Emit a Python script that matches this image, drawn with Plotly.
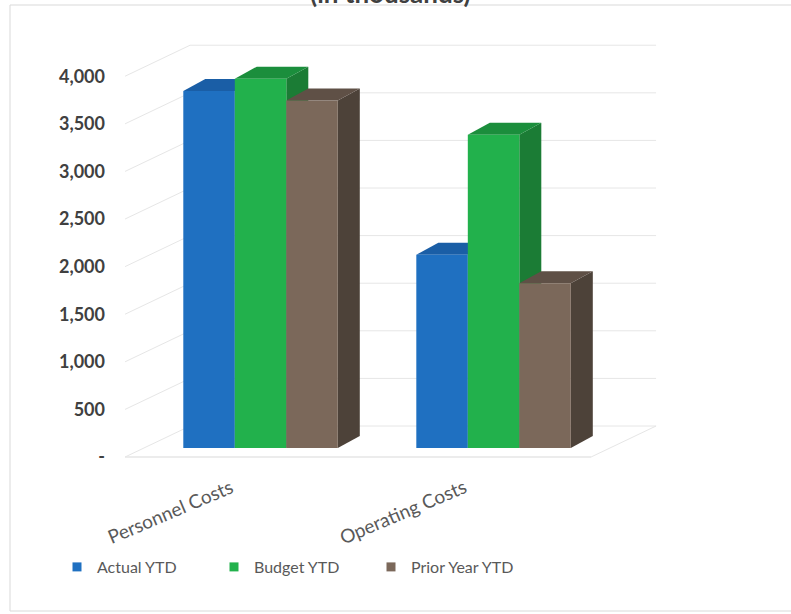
import plotly.graph_objects as go

# ---- data -------------------------------------------------------------
categories = ["Personnel Costs", "Operating Costs"]
series_names = ["Actual YTD", "Budget YTD", "Prior Year YTD"]
actual_ytd = [3750, 2030]
budget_ytd = [3880, 3290]
prior_year_ytd = [3650, 1730]
tick_values = [0, 500, 1000, 1500, 2000, 2500, 3000, 3500, 4000]
tick_labels = ["-", "500", "1,000", "1,500", "2,000", "2,500", "3,000", "3,500", "4,000"]
title_text = "(in thousands)"

series_values = [actual_ytd, budget_ytd, prior_year_ytd]

# ---- styling ----------------------------------------------------------
front_colors = ["#1f70c1", "#22b14c", "#7b685a"]
top_colors = ["#1a5ea6", "#1b8e3c", "#5f5046"]
side_colors = ["#175391", "#1b7c35", "#4d4239"]
grid_color = "#e6e6e6"
frame_color = "#d9d9d9"
FONT = "Lato, Carlito, Calibri, sans-serif"

# ---- canvas / plot area ------------------------------------------------
W, H = 791, 614
L, R, T, B = 100, 91, 30, 144
PW, PH = W - L - R, H - T - B
X_RANGE = [-0.689, 1.886]
Y_RANGE = [-231.0, 4391.0]
PX_PER_X = PW / (X_RANGE[1] - X_RANGE[0])
PX_PER_Y = PH / (Y_RANGE[1] - Y_RANGE[0])

# front plane of the box sits a little lower than the bar fronts
FRONT_SHIFT = 9 / PX_PER_Y
Y2_RANGE = [Y_RANGE[0] + FRONT_SHIFT, Y_RANGE[1] + FRONT_SHIFT]

# 3-D depth offsets (pixels -> data units)
BAR_DX, BAR_DY = 22 / PX_PER_X, 12 / PX_PER_Y
WALL_DX, WALL_DY = 65 / PX_PER_X, 31 / PX_PER_Y
BOX_LEFT = -0.5815          # front-left corner of the floor (x data)
BOX_RIGHT = BOX_LEFT + 2.0  # front-right corner of the floor

BARGAP = 0.337
GROUP_W = 1 - BARGAP
BAR_W = GROUP_W / len(series_values)

fig = go.Figure()
shapes = []

# back wall + side wall gridlines
for v in tick_values:
    yb = v + WALL_DY
    shapes.append(dict(type="line", xref="x", yref="y2", layer="below",
                       x0=BOX_LEFT + WALL_DX, x1=BOX_RIGHT + WALL_DX, y0=yb, y1=yb,
                       line=dict(color=grid_color, width=1)))
    shapes.append(dict(type="line", xref="x", yref="y2", layer="below",
                       x0=BOX_LEFT, x1=BOX_LEFT + WALL_DX, y0=v, y1=yb,
                       line=dict(color=grid_color, width=1)))
# floor edges
shapes.append(dict(type="line", xref="x", yref="y2", layer="below",
                   x0=BOX_LEFT, x1=BOX_RIGHT, y0=0, y1=0,
                   line=dict(color=grid_color, width=1.5)))
shapes.append(dict(type="line", xref="x", yref="y2", layer="below",
                   x0=BOX_RIGHT, x1=BOX_RIGHT + WALL_DX, y0=0, y1=WALL_DY,
                   line=dict(color=grid_color, width=1)))

# top and side faces of each column (fronts are the bar traces)
for ci in range(len(categories)):
    for si, vals in enumerate(series_values):
        v = vals[ci]
        left = ci - GROUP_W / 2 + si * BAR_W
        right = left + BAR_W
        top_path = (f"M{left},{v} L{left + BAR_DX},{v + BAR_DY} "
                    f"L{right + BAR_DX},{v + BAR_DY} L{right},{v} Z")
        side_path = (f"M{right},0 L{right + BAR_DX},{BAR_DY} "
                     f"L{right + BAR_DX},{v + BAR_DY} L{right},{v} Z")
        shapes.append(dict(type="path", path=side_path, xref="x", yref="y",
                           layer="below", fillcolor=side_colors[si],
                           line=dict(width=0)))
        shapes.append(dict(type="path", path=top_path, xref="x", yref="y",
                           layer="below", fillcolor=top_colors[si],
                           line=dict(width=0)))

for si, (name, vals) in enumerate(zip(series_names, series_values)):
    fig.add_trace(go.Bar(
        x=list(range(len(categories))), y=vals, name=name,
        marker=dict(color=front_colors[si], line=dict(width=0)),
        showlegend=False, hoverinfo="y+name"))

# legend entries with small square swatches
for si, name in enumerate(series_names):
    fig.add_trace(go.Scatter(
        x=[None], y=[None], mode="markers", name=name,
        marker=dict(symbol="square", size=9, color=front_colors[si]),
        showlegend=True, hoverinfo="skip"))

# carrier for the front tick-label axis
fig.add_trace(go.Scatter(x=[None], y=[None], yaxis="y2", showlegend=False,
                         hoverinfo="skip"))

# outer frame
shapes.append(dict(type="rect", xref="paper", yref="paper", layer="above",
                   x0=(10 - L) / PW, x1=(800 - L) / PW,
                   y0=(H - B - 611) / PH, y1=(H - B - 5) / PH,
                   line=dict(color=frame_color, width=1)))

annotations = []
for ci, cat in enumerate(categories):
    annotations.append(dict(
        text=cat, x=ci, xref="x", xshift=-91,
        y=(H - B - 511) / PH, yref="paper",
        xanchor="center", yanchor="middle",
        textangle=-23, showarrow=False,
        font=dict(family=FONT, size=19, color="#595959")))
annotations.append(dict(
    text=f"<b>{title_text}</b>", x=(390 - L) / PW, xref="paper",
    y=(H - B - 11) / PH, yref="paper", yanchor="bottom", showarrow=False,
    font=dict(family=FONT, size=26, color="#404040")))

fig.update_layout(
    width=W, height=H,
    margin=dict(l=L, r=R, t=T, b=B),
    paper_bgcolor="white", plot_bgcolor="white",
    barmode="group", bargap=BARGAP, bargroupgap=0,
    xaxis=dict(range=X_RANGE, showticklabels=False, showgrid=False,
               zeroline=False, showline=False, ticks=""),
    yaxis=dict(range=Y_RANGE, visible=False),
    yaxis2=dict(range=Y2_RANGE, overlaying="y", side="left", anchor="free",
                position=(105 - L) / PW, tickvals=tick_values,
                ticktext=tick_labels, showgrid=False, zeroline=False,
                showline=False, ticks="",
                tickfont=dict(family=FONT, size=18, color="#404040",
                              weight="bold")),
    legend=dict(orientation="h", x=(57 - L) / PW, xanchor="left",
                y=(H - B - 550) / PH, yanchor="top", entrywidth=112,
                font=dict(family=FONT, size=16, color="#595959"),
                bgcolor="rgba(0,0,0,0)"),
    shapes=shapes,
    annotations=annotations,
    showlegend=True,
)

fig.write_html("out.html")
